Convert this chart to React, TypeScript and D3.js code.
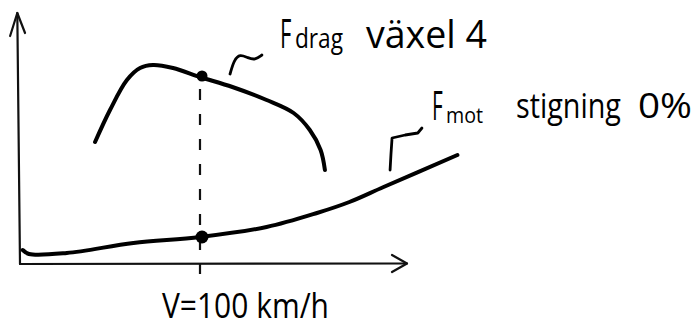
import React from "react";
import * as d3 from "d3";

// Speed (km/h) and force (arbitrary units)
const dragSpeed = [41.7, 50, 59.4, 66.7, 73.9, 85, 100, 118, 137, 152, 161, 167, 169.4];
const dragForce = [122, 154, 184, 196, 199, 196, 187, 177, 164, 151, 134, 114, 94];

const motSpeed = [1.5, 5, 26, 63, 100, 137, 165, 183, 202, 243];
const motForce = [14, 10, 11, 21, 27, 37, 51, 62, 77, 109];

const markSpeed = 100;
const markDrag = 187;
const markMot = 27;

const xLabel = "V=100 km/h";
const dragLabelMain = "F";
const dragLabelSub = "drag";
const dragLabelRest = "växel 4";
const motLabelMain = "F";
const motLabelSub = "mot";
const motLabelRest = "stigning";
const motLabelPct = "0%";

const W = 700;
const H = 331;

export default function App() {
  const x = d3.scaleLinear().domain([0, 100]).range([20, 200]);
  const y = d3.scaleLinear().domain([0, 250]).range([264, 14]);

  const line = d3
    .line<[number, number]>()
    .x((d) => x(d[0]))
    .y((d) => y(d[1]))
    .curve(d3.curveCatmullRom.alpha(0.5));

  const dragPts = dragSpeed.map((v, i) => [v, dragForce[i]] as [number, number]);
  const motPts = motSpeed.map((v, i) => [v, motForce[i]] as [number, number]);

  const xEnd = 215;
  const yEnd = 251;

  // leader squiggles in data space
  const tilde: [number, number][] = [
    [116.7, 190], [118.9, 204], [122.2, 210], [126.7, 206], [130.6, 204], [134.4, 209],
  ];
  const bracket: [number, number][] = [
    [205.6, 94], [206.1, 110], [206.7, 126], [214, 129], [221, 131], [223.3, 136],
  ];
  const tildeLine = d3
    .line<[number, number]>()
    .x((d) => x(d[0]))
    .y((d) => y(d[1]))
    .curve(d3.curveBasis);
  const bracketLine = d3
    .line<[number, number]>()
    .x((d) => x(d[0]))
    .y((d) => y(d[1]))
    .curve(d3.curveLinear);

  const font = "'Open Sans', 'DejaVu Sans', sans-serif";

  return (
    <svg
      width={W}
      height={H}
      style={{ position: "absolute", left: 0, top: 0, background: "#fff" }}
    >
      {/* axes */}
      <g stroke="#111" strokeWidth={2.2} fill="none" strokeLinecap="round" strokeLinejoin="round">
        <line x1={x(0)} y1={y(0)} x2={x(xEnd)} y2={y(0.5)} />
        <polyline points={`${x(xEnd) - 15},${y(0) - 9} ${x(xEnd)},${y(0.5)} ${x(xEnd) - 15},${y(0) + 8}`} />
        <line x1={x(0)} y1={y(0)} x2={x(-1.5)} y2={y(yEnd)} />
        <polyline points={`${x(-5.5)},${y(yEnd) + 23} ${x(-1.5)},${y(yEnd)} ${x(2.8)},${y(yEnd) + 20}`} />
      </g>

      {/* dashed guide */}
      <line
        x1={x(markSpeed)}
        x2={x(markSpeed)}
        y1={y(markDrag) + 12}
        y2={y(0) + 10}
        stroke="#111"
        strokeWidth={2.2}
        strokeDasharray="11 14"
      />

      {/* curves */}
      <path d={line(dragPts) || ""} fill="none" stroke="#000" strokeWidth={4} strokeLinecap="round" />
      <path d={line(motPts) || ""} fill="none" stroke="#000" strokeWidth={4} strokeLinecap="round" />

      {/* points */}
      <circle cx={x(markSpeed) + 2} cy={y(markDrag) - 1} r={5.5} fill="#000" />
      <circle cx={x(markSpeed) + 2} cy={y(markMot)} r={6.5} fill="#000" />

      {/* leaders */}
      <path d={tildeLine(tilde) || ""} fill="none" stroke="#000" strokeWidth={2.8} strokeLinecap="round" />
      <path d={bracketLine(bracket) || ""} fill="none" stroke="#000" strokeWidth={2.8} strokeLinecap="round" strokeLinejoin="round" />

      {/* labels */}
      <g fontFamily={font} fill="#000">
        <text transform="translate(280,48) scale(0.55,1)" fontSize={40}>{dragLabelMain}</text>
        <text x={295} y={48} fontSize={27} textLength={48} lengthAdjust="spacingAndGlyphs">{dragLabelSub}</text>
        <text x={366} y={48} fontSize={38} textLength={121} lengthAdjust="spacingAndGlyphs">{dragLabelRest}</text>

        <text transform="translate(432,120) scale(0.52,1)" fontSize={40}>{motLabelMain}</text>
        <text x={446} y={123} fontSize={22} textLength={37} lengthAdjust="spacingAndGlyphs">{motLabelSub}</text>
        <text x={516} y={118} fontSize={34} textLength={105} lengthAdjust="spacingAndGlyphs">{motLabelRest}</text>
        <text x={638} y={118} fontSize={34} textLength={54} lengthAdjust="spacingAndGlyphs">{motLabelPct}</text>

        <text x={162} y={318} fontSize={35} textLength={167} lengthAdjust="spacingAndGlyphs">{xLabel}</text>
      </g>
    </svg>
  );
}
